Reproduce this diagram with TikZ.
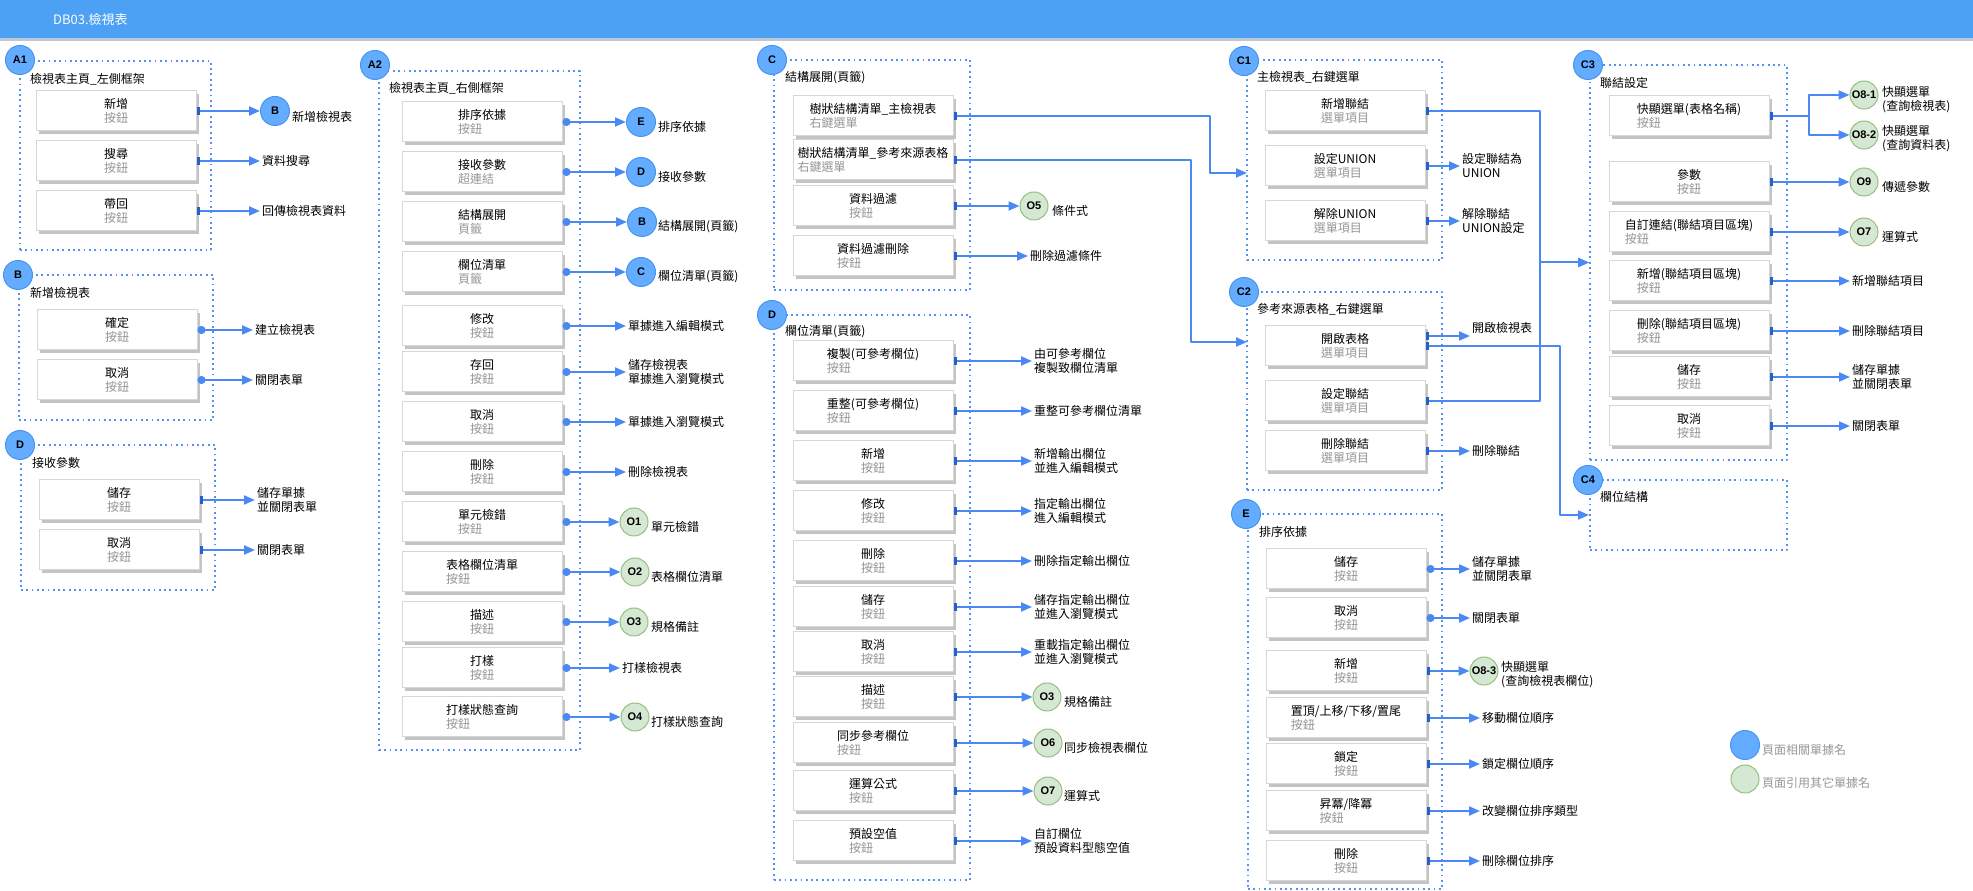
\documentclass[tikz,border=0pt]{standalone}
\usepackage{fontspec}
\setmainfont{Noto Sans CJK TC}
\newfontfamily\tagfont{Liberation Sans}
\usetikzlibrary{arrows.meta,shadows}
\definecolor{barblue}{RGB}{77,161,245}
\definecolor{barshade}{RGB}{190,200,215}
\definecolor{linkblue}{RGB}{74,137,243}
\definecolor{markblue}{RGB}{38,96,200}
\definecolor{framedot}{RGB}{82,146,245}
\definecolor{tagfill}{RGB}{100,172,255}
\definecolor{tagedge}{RGB}{70,148,240}
\definecolor{reffill}{RGB}{213,232,212}
\definecolor{refedge}{RGB}{150,192,125}
\definecolor{btnedge}{RGB}{214,214,214}
\definecolor{btnshade}{RGB}{196,196,196}
\definecolor{subgray}{RGB}{150,150,150}
\begin{document}
\begin{tikzpicture}[>=latex,line join=bevel,
  every node/.style={font=\fontsize{12bp}{14bp}\selectfont},
  grp/.style={draw=framedot,line width=2bp,dash pattern=on 1.8bp off 3.5bp,inner sep=0pt},
  pagetag/.style={circle,fill=tagfill,draw=tagedge,line width=1bp,minimum size=29bp,inner sep=0pt,font=\tagfont\bfseries\fontsize{11bp}{13bp}\selectfont},
  extref/.style={pagetag,fill=reffill,draw=refedge,minimum size=28bp},
  grptitle/.style={anchor=west,inner sep=0pt},
  btn/.style={draw=btnedge,fill=white,line width=1bp,minimum width=160bp,minimum height=40bp,inner sep=0pt,align=left,drop shadow={shadow xshift=3bp,shadow yshift=-3bp,fill=btnshade,opacity=1}},
  outtxt/.style={anchor=west,inner sep=2bp,align=left},
  reftxt/.style={anchor=west,inner sep=0pt,align=left},
  link/.style={draw=linkblue,line width=2bp,-{Triangle[length=11bp,width=9bp]}},
  dotlink/.style={link,{Circle[length=8bp]}-{Triangle[length=11bp,width=9bp]}},
  barlink/.style={link,{Rectangle[length=3bp,width=8bp,color=markblue]}-{Triangle[length=11bp,width=9bp]}},
]
%%
\useasboundingbox (0bp,0bp) rectangle (1973bp,891bp);
\fill [barshade] (0bp,850bp) rectangle (1973bp,853bp);
\node (node_bar) at (986.5bp,872bp) [fill=barblue,minimum width=1973bp,minimum height=38bp,inner sep=0pt] {};
  \node (node_title) at (53bp,871bp) [anchor=west,inner sep=0pt,text=white,font=\fontsize{13bp}{15bp}\selectfont] {DB03.檢視表};
%
\node (node_frame_a1) at (115.5bp,735.5bp) [grp,minimum width=191bp,minimum height=189bp] {};
  \node (node_frame_b) at (116bp,543.5bp) [grp,minimum width=194bp,minimum height=145bp] {};
  \node (node_frame_d) at (118bp,373.5bp) [grp,minimum width=194bp,minimum height=145bp] {};
  \node (node_frame_a2) at (479.5bp,480.5bp) [grp,minimum width=201bp,minimum height=679bp] {};
  \node (node_frame_c) at (872bp,716bp) [grp,minimum width=196bp,minimum height=230bp] {};
  \node (node_frame_dd) at (872bp,293.5bp) [grp,minimum width=196bp,minimum height=565bp] {};
  \node (node_frame_c1) at (1344.5bp,731bp) [grp,minimum width=195bp,minimum height=200bp] {};
  \node (node_frame_c2) at (1344.5bp,500bp) [grp,minimum width=195bp,minimum height=198bp] {};
  \node (node_frame_e) at (1345bp,189.5bp) [grp,minimum width=194bp,minimum height=375bp] {};
  \node (node_frame_c3) at (1688.5bp,628.5bp) [grp,minimum width=197bp,minimum height=395bp] {};
  \node (node_frame_c4) at (1688.5bp,376bp) [grp,minimum width=197bp,minimum height=70bp] {};
%
\node (node_tag_a1) at (20bp,831bp) [pagetag] {A1};
  \node (node_tag_b) at (18bp,616bp) [pagetag] {B};
  \node (node_tag_d) at (20bp,446bp) [pagetag] {D};
  \node (node_tag_a2) at (375bp,826bp) [pagetag] {A2};
  \node (node_tag_c) at (772bp,831bp) [pagetag] {C};
  \node (node_tag_dd) at (772bp,576bp) [pagetag] {D};
  \node (node_tag_c1) at (1244bp,830bp) [pagetag] {C1};
  \node (node_tag_c2) at (1244bp,599bp) [pagetag] {C2};
  \node (node_tag_e) at (1246bp,377bp) [pagetag] {E};
  \node (node_tag_c3) at (1588bp,826bp) [pagetag] {C3};
  \node (node_tag_c4) at (1588bp,411bp) [pagetag] {C4};
%
\node (node_head_a1) at (30bp,812bp) [grptitle] {檢視表主頁\_左側框架};
  \node (node_head_b) at (30bp,598bp) [grptitle] {新增檢視表};
  \node (node_head_d) at (32bp,428bp) [grptitle] {接收參數};
  \node (node_head_a2) at (389bp,803bp) [grptitle] {檢視表主頁\_右側框架};
  \node (node_head_c) at (785bp,813bp) [grptitle] {結構展開(頁籤)};
  \node (node_head_dd) at (785bp,559bp) [grptitle] {欄位清單(頁籤)};
  \node (node_head_c1) at (1257bp,814bp) [grptitle] {主檢視表\_右鍵選單};
  \node (node_head_c2) at (1257bp,582bp) [grptitle] {參考來源表格\_右鍵選單};
  \node (node_head_e) at (1259bp,359bp) [grptitle] {排序依據};
  \node (node_head_c3) at (1600bp,808bp) [grptitle] {聯結設定};
  \node (node_head_c4) at (1600bp,394bp) [grptitle] {欄位結構};
%% A1
\node (node_a1_1) at (116bp,780bp) [btn] {新增\\\textcolor{subgray}{按鈕}};
  \node (node_a1_2) at (116bp,730bp) [btn] {搜尋\\\textcolor{subgray}{按鈕}};
  \node (node_a1_3) at (116bp,680bp) [btn] {帶回\\\textcolor{subgray}{按鈕}};
  \node (node_ref_a1_1) at (275bp,780bp) [pagetag] {B};
  \node (node_note_a1_1) at (292bp,774bp) [reftxt] {新增檢視表};
  \node (node_t_a1_2) at (260bp,730bp) [outtxt] {資料搜尋};
  \node (node_t_a1_3) at (260bp,680bp) [outtxt] {回傳檢視表資料};
  \draw [barlink] (node_a1_1) -- (node_ref_a1_1);
  \draw [barlink] (node_a1_2) -- (node_t_a1_2);
  \draw [barlink] (node_a1_3) -- (node_t_a1_3);
%% B
\node (node_b_1) at (117bp,561bp) [btn] {確定\\\textcolor{subgray}{按鈕}};
  \node (node_b_2) at (117bp,511bp) [btn] {取消\\\textcolor{subgray}{按鈕}};
  \node (node_t_b_1) at (253bp,561bp) [outtxt] {建立檢視表};
  \node (node_t_b_2) at (253bp,511bp) [outtxt] {關閉表單};
  \draw [dotlink] (node_b_1) -- (node_t_b_1);
  \draw [dotlink] (node_b_2) -- (node_t_b_2);
%% D
\node (node_d_1) at (119bp,391bp) [btn] {儲存\\\textcolor{subgray}{按鈕}};
  \node (node_d_2) at (119bp,341bp) [btn] {取消\\\textcolor{subgray}{按鈕}};
  \node (node_t_d_1) at (255bp,391bp) [outtxt] {儲存單據\\並關閉表單};
  \node (node_t_d_2) at (255bp,341bp) [outtxt] {關閉表單};
  \draw [barlink] (node_d_1) -- (node_t_d_1);
  \draw [barlink] (node_d_2) -- (node_t_d_2);
%% A2
\node (node_a2_1) at (482bp,769bp) [btn] {排序依據\\\textcolor{subgray}{按鈕}};
  \node (node_a2_2) at (482bp,719bp) [btn] {接收參數\\\textcolor{subgray}{超連結}};
  \node (node_a2_3) at (482bp,669bp) [btn] {結構展開\\\textcolor{subgray}{頁籤}};
  \node (node_a2_4) at (482bp,619bp) [btn] {欄位清單\\\textcolor{subgray}{頁籤}};
  \node (node_a2_5) at (482bp,565bp) [btn] {修改\\\textcolor{subgray}{按鈕}};
  \node (node_a2_6) at (482bp,519bp) [btn] {存回\\\textcolor{subgray}{按鈕}};
  \node (node_a2_7) at (482bp,469bp) [btn] {取消\\\textcolor{subgray}{按鈕}};
  \node (node_a2_8) at (482bp,419bp) [btn] {刪除\\\textcolor{subgray}{按鈕}};
  \node (node_a2_9) at (482bp,369bp) [btn] {單元檢錯\\\textcolor{subgray}{按鈕}};
  \node (node_a2_10) at (482bp,319bp) [btn] {表格欄位清單\\\textcolor{subgray}{按鈕}};
  \node (node_a2_11) at (482bp,269bp) [btn] {描述\\\textcolor{subgray}{按鈕}};
  \node (node_a2_12) at (482bp,223bp) [btn] {打樣\\\textcolor{subgray}{按鈕}};
  \node (node_a2_13) at (482bp,174bp) [btn] {打樣狀態查詢\\\textcolor{subgray}{按鈕}};
  \node (node_ref_a2_1) at (641bp,769bp) [pagetag] {E};
  \node (node_ref_a2_2) at (641bp,719bp) [pagetag] {D};
  \node (node_ref_a2_3) at (642bp,669bp) [pagetag] {B};
  \node (node_ref_a2_4) at (641bp,619bp) [pagetag] {C};
  \node (node_ref_a2_9) at (634bp,369bp) [extref] {O1};
  \node (node_ref_a2_10) at (635bp,319bp) [extref] {O2};
  \node (node_ref_a2_11) at (634bp,269bp) [extref] {O3};
  \node (node_ref_a2_13) at (635bp,174bp) [extref] {O4};
  \node (node_note_a2_1) at (658bp,764bp) [reftxt] {排序依據};
  \node (node_note_a2_2) at (658bp,714bp) [reftxt] {接收參數};
  \node (node_note_a2_3) at (658bp,664bp) [reftxt] {結構展開(頁籤)};
  \node (node_note_a2_4) at (658bp,614bp) [reftxt] {欄位清單(頁籤)};
  \node (node_note_a2_9) at (651bp,364bp) [reftxt] {單元檢錯};
  \node (node_note_a2_10) at (651bp,314bp) [reftxt] {表格欄位清單};
  \node (node_note_a2_11) at (651bp,264bp) [reftxt] {規格備註};
  \node (node_note_a2_13) at (651bp,169bp) [reftxt] {打樣狀態查詢};
  \node (node_t_a2_5) at (626bp,565bp) [outtxt] {單據進入編輯模式};
  \node (node_t_a2_6) at (626bp,519bp) [outtxt] {儲存檢視表\\單據進入瀏覽模式};
  \node (node_t_a2_7) at (626bp,469bp) [outtxt] {單據進入瀏覽模式};
  \node (node_t_a2_8) at (626bp,419bp) [outtxt] {刪除檢視表};
  \node (node_t_a2_12) at (620bp,223bp) [outtxt] {打樣檢視表};
  \draw [dotlink] (node_a2_1) -- (node_ref_a2_1);
  \draw [dotlink] (node_a2_2) -- (node_ref_a2_2);
  \draw [dotlink] (node_a2_3) -- (node_ref_a2_3);
  \draw [dotlink] (node_a2_4) -- (node_ref_a2_4);
  \draw [dotlink] (node_a2_5) -- (node_t_a2_5);
  \draw [dotlink] (node_a2_6) -- (node_t_a2_6);
  \draw [dotlink] (node_a2_7) -- (node_t_a2_7);
  \draw [dotlink] (node_a2_8) -- (node_t_a2_8);
  \draw [dotlink] (node_a2_9) -- (node_ref_a2_9);
  \draw [dotlink] (node_a2_10) -- (node_ref_a2_10);
  \draw [dotlink] (node_a2_11) -- (node_ref_a2_11);
  \draw [dotlink] (node_a2_12) -- (node_t_a2_12);
  \draw [dotlink] (node_a2_13) -- (node_ref_a2_13);
%% C
\node (node_c_1) at (873bp,775bp) [btn] {樹狀結構清單\_主檢視表\\\textcolor{subgray}{右鍵選單}};
  \node (node_c_2) at (873bp,731bp) [btn] {樹狀結構清單\_參考來源表格\\\textcolor{subgray}{右鍵選單}};
  \node (node_c_3) at (873bp,685bp) [btn] {資料過濾\\\textcolor{subgray}{按鈕}};
  \node (node_c_4) at (873bp,635bp) [btn] {資料過濾刪除\\\textcolor{subgray}{按鈕}};
  \node (node_ref_c_3) at (1034bp,685bp) [extref] {O5};
  \node (node_note_c_3) at (1052bp,680bp) [reftxt] {條件式};
  \node (node_t_c_4) at (1028bp,635bp) [outtxt] {刪除過濾條件};
  \coordinate (pt_c1_in) at (1247bp,718bp);
  \coordinate (pt_c2_in) at (1247bp,549bp);
  \draw [barlink] (node_c_1) -- (1210bp,775bp) |- (pt_c1_in);
  \draw [barlink] (node_c_2) -- (1191bp,731bp) |- (pt_c2_in);
  \draw [barlink] (node_c_3) -- (node_ref_c_3);
  \draw [barlink] (node_c_4) -- (node_t_c_4);
%% D (tab)
\node (node_dd_1) at (873bp,530bp) [btn] {複製(可參考欄位)\\\textcolor{subgray}{按鈕}};
  \node (node_dd_2) at (873bp,480bp) [btn] {重整(可參考欄位)\\\textcolor{subgray}{按鈕}};
  \node (node_dd_3) at (873bp,430bp) [btn] {新增\\\textcolor{subgray}{按鈕}};
  \node (node_dd_4) at (873bp,380bp) [btn] {修改\\\textcolor{subgray}{按鈕}};
  \node (node_dd_5) at (873bp,330bp) [btn] {刪除\\\textcolor{subgray}{按鈕}};
  \node (node_dd_6) at (873bp,284bp) [btn] {儲存\\\textcolor{subgray}{按鈕}};
  \node (node_dd_7) at (873bp,239bp) [btn] {取消\\\textcolor{subgray}{按鈕}};
  \node (node_dd_8) at (873bp,194bp) [btn] {描述\\\textcolor{subgray}{按鈕}};
  \node (node_dd_9) at (873bp,148bp) [btn] {同步參考欄位\\\textcolor{subgray}{按鈕}};
  \node (node_dd_10) at (873bp,100bp) [btn] {運算公式\\\textcolor{subgray}{按鈕}};
  \node (node_dd_11) at (873bp,50bp) [btn] {預設空值\\\textcolor{subgray}{按鈕}};
  \node (node_t_dd_1) at (1032bp,530bp) [outtxt] {由可參考欄位\\複製致欄位清單};
  \node (node_t_dd_2) at (1032bp,480bp) [outtxt] {重整可參考欄位清單};
  \node (node_t_dd_3) at (1032bp,430bp) [outtxt] {新增輸出欄位\\並進入編輯模式};
  \node (node_t_dd_4) at (1032bp,380bp) [outtxt] {指定輸出欄位\\進入編輯模式};
  \node (node_t_dd_5) at (1032bp,330bp) [outtxt] {刪除指定輸出欄位};
  \node (node_t_dd_6) at (1032bp,284bp) [outtxt] {儲存指定輸出欄位\\並進入瀏覽模式};
  \node (node_t_dd_7) at (1032bp,239bp) [outtxt] {重載指定輸出欄位\\並進入瀏覽模式};
  \node (node_ref_dd_8) at (1047bp,194bp) [extref] {O3};
  \node (node_ref_dd_9) at (1048bp,148bp) [extref] {O6};
  \node (node_ref_dd_10) at (1048bp,100bp) [extref] {O7};
  \node (node_note_dd_8) at (1064bp,189bp) [reftxt] {規格備註};
  \node (node_note_dd_9) at (1064bp,143bp) [reftxt] {同步檢視表欄位};
  \node (node_note_dd_10) at (1064bp,95bp) [reftxt] {運算式};
  \node (node_t_dd_11) at (1032bp,50bp) [outtxt] {自訂欄位\\預設資料型態空值};
  \draw [barlink] (node_dd_1) -- (node_t_dd_1);
  \draw [barlink] (node_dd_2) -- (node_t_dd_2);
  \draw [barlink] (node_dd_3) -- (node_t_dd_3);
  \draw [barlink] (node_dd_4) -- (node_t_dd_4);
  \draw [barlink] (node_dd_5) -- (node_t_dd_5);
  \draw [barlink] (node_dd_6) -- (node_t_dd_6);
  \draw [barlink] (node_dd_7) -- (node_t_dd_7);
  \draw [barlink] (node_dd_8) -- (node_ref_dd_8);
  \draw [barlink] (node_dd_9) -- (node_ref_dd_9);
  \draw [barlink] (node_dd_10) -- (node_ref_dd_10);
  \draw [barlink] (node_dd_11) -- (node_t_dd_11);
%% C1
\node (node_c1_1) at (1345bp,780bp) [btn] {新增聯結\\\textcolor{subgray}{選單項目}};
  \node (node_c1_2) at (1345bp,725bp) [btn] {設定UNION\\\textcolor{subgray}{選單項目}};
  \node (node_c1_3) at (1345bp,670bp) [btn] {解除UNION\\\textcolor{subgray}{選單項目}};
  \node (node_t_c1_2) at (1460bp,725bp) [outtxt] {設定聯結為\\UNION};
  \node (node_t_c1_3) at (1460bp,670bp) [outtxt] {解除聯結\\UNION設定};
  \draw [barlink] (node_c1_1) -- (1540bp,780bp) |- (node_frame_c3.west);
  \draw [barlink] (node_c1_2) -- (node_t_c1_2);
  \draw [barlink] (node_c1_3) -- (node_t_c1_3);
%% C2
\node (node_c2_1) at (1345bp,545bp) [btn] {開啟表格\\\textcolor{subgray}{選單項目}};
  \node (node_c2_2) at (1345bp,490bp) [btn] {設定聯結\\\textcolor{subgray}{選單項目}};
  \node (node_c2_3) at (1345bp,440bp) [btn] {刪除聯結\\\textcolor{subgray}{選單項目}};
  \node (node_t_c2_1) at (1470bp,563bp) [outtxt] {開啟檢視表};
  \node (node_t_c2_3) at (1470bp,440bp) [outtxt] {刪除聯結};
  \draw [barlink] ([yshift=10bp]node_c2_1.east) -- ([yshift=10bp]node_c2_1.east -| node_t_c2_1.west);
  \draw [barlink] (node_c2_1.east) -- (1560bp,545bp) |- (node_frame_c4.west);
  \draw [barlink] (node_c2_2) -- (1540bp,490bp) |- (node_frame_c3.west);
  \draw [barlink] (node_c2_3) -- (node_t_c2_3);
%% E
\node (node_e_1) at (1346bp,322bp) [btn] {儲存\\\textcolor{subgray}{按鈕}};
  \node (node_e_2) at (1346bp,273bp) [btn] {取消\\\textcolor{subgray}{按鈕}};
  \node (node_e_3) at (1346bp,220bp) [btn] {新增\\\textcolor{subgray}{按鈕}};
  \node (node_e_4) at (1346bp,173bp) [btn] {置頂/上移/下移/置尾\\\textcolor{subgray}{按鈕}};
  \node (node_e_5) at (1346bp,127bp) [btn] {鎖定\\\textcolor{subgray}{按鈕}};
  \node (node_e_6) at (1346bp,80bp) [btn] {昇冪/降冪\\\textcolor{subgray}{按鈕}};
  \node (node_e_7) at (1346bp,30bp) [btn] {刪除\\\textcolor{subgray}{按鈕}};
  \node (node_t_e_1) at (1470bp,322bp) [outtxt] {儲存單據\\並關閉表單};
  \node (node_t_e_2) at (1470bp,273bp) [outtxt] {關閉表單};
  \node (node_ref_e_3) at (1484bp,220bp) [extref] {O8-3};
  \node (node_note_e_3) at (1501bp,216bp) [reftxt] {快顯選單\\(查詢檢視表欄位)};
  \node (node_t_e_4) at (1480bp,173bp) [outtxt] {移動欄位順序};
  \node (node_t_e_5) at (1480bp,127bp) [outtxt] {鎖定欄位順序};
  \node (node_t_e_6) at (1480bp,80bp) [outtxt] {改變欄位排序類型};
  \node (node_t_e_7) at (1480bp,30bp) [outtxt] {刪除欄位排序};
  \draw [dotlink] (node_e_1) -- (node_t_e_1);
  \draw [dotlink] (node_e_2) -- (node_t_e_2);
  \draw [barlink] (node_e_3) -- (node_ref_e_3);
  \draw [barlink] (node_e_4) -- (node_t_e_4);
  \draw [barlink] (node_e_5) -- (node_t_e_5);
  \draw [barlink] (node_e_6) -- (node_t_e_6);
  \draw [barlink] (node_e_7) -- (node_t_e_7);
%% C3
\node (node_c3_1) at (1689bp,775bp) [btn] {快顯選單(表格名稱)\\\textcolor{subgray}{按鈕}};
  \node (node_c3_2) at (1689bp,709bp) [btn] {參數\\\textcolor{subgray}{按鈕}};
  \node (node_c3_3) at (1689bp,659bp) [btn] {自訂連結(聯結項目區塊)\\\textcolor{subgray}{按鈕}};
  \node (node_c3_4) at (1689bp,610bp) [btn] {新增(聯結項目區塊)\\\textcolor{subgray}{按鈕}};
  \node (node_c3_5) at (1689bp,560bp) [btn] {刪除(聯結項目區塊)\\\textcolor{subgray}{按鈕}};
  \node (node_c3_6) at (1689bp,514bp) [btn] {儲存\\\textcolor{subgray}{按鈕}};
  \node (node_c3_7) at (1689bp,465bp) [btn] {取消\\\textcolor{subgray}{按鈕}};
  \node (node_ref_c3_1a) at (1864bp,796bp) [extref] {O8-1};
  \node (node_ref_c3_1b) at (1864bp,756bp) [extref] {O8-2};
  \node (node_ref_c3_2) at (1864bp,709bp) [extref] {O9};
  \node (node_ref_c3_3) at (1864bp,659bp) [extref] {O7};
  \node (node_note_c3_1a) at (1882bp,791bp) [reftxt] {快顯選單\\(查詢檢視表)};
  \node (node_note_c3_1b) at (1882bp,752bp) [reftxt] {快顯選單\\(查詢資料表)};
  \node (node_note_c3_2) at (1882bp,704bp) [reftxt] {傳遞參數};
  \node (node_note_c3_3) at (1882bp,654bp) [reftxt] {運算式};
  \node (node_t_c3_4) at (1850bp,610bp) [outtxt] {新增聯結項目};
  \node (node_t_c3_5) at (1850bp,560bp) [outtxt] {刪除聯結項目};
  \node (node_t_c3_6) at (1850bp,514bp) [outtxt] {儲存單據\\並關閉表單};
  \node (node_t_c3_7) at (1850bp,465bp) [outtxt] {關閉表單};
  \draw [barlink] (node_c3_1) -- (1809bp,775bp) |- (node_ref_c3_1a);
  \draw [barlink] (node_c3_1) -- (1809bp,775bp) |- (node_ref_c3_1b);
  \draw [barlink] (node_c3_2) -- (node_ref_c3_2);
  \draw [barlink] (node_c3_3) -- (node_ref_c3_3);
  \draw [barlink] (node_c3_4) -- (node_t_c3_4);
  \draw [barlink] (node_c3_5) -- (node_t_c3_5);
  \draw [barlink] (node_c3_6) -- (node_t_c3_6);
  \draw [barlink] (node_c3_7) -- (node_t_c3_7);
%% legend
\node (node_key_1) at (1745bp,146bp) [pagetag] {};
  \node (node_key_2) at (1745bp,112bp) [extref] {};
  \node (node_keytxt_1) at (1762bp,141bp) [reftxt,text=subgray] {頁面相關單據名};
  \node (node_keytxt_2) at (1762bp,108bp) [reftxt,text=subgray] {頁面引用其它單據名};
%
\end{tikzpicture}
\end{document}
